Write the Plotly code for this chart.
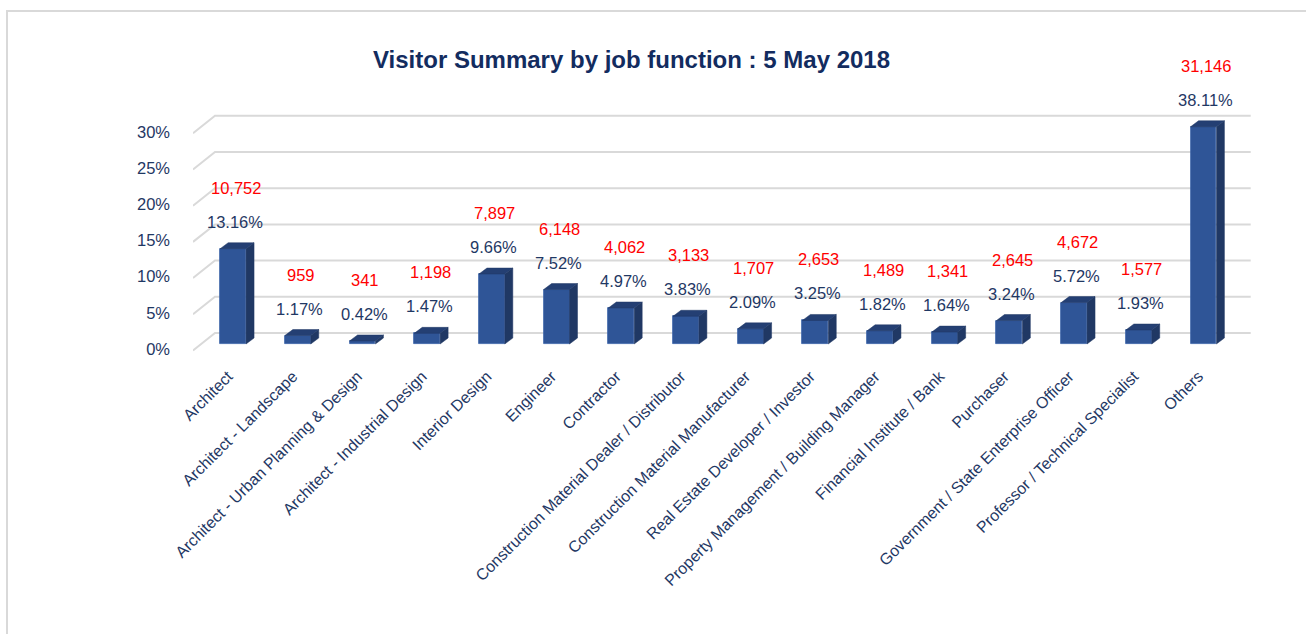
import plotly.graph_objects as go

categories = [
    "Architect", "Architect - Landscape", "Architect - Urban Planning & Design",
    "Architect - Industrial Design", "Interior Design", "Engineer", "Contractor",
    "Construction Material Dealer / Distributor", "Construction Material Manufacturer",
    "Real Estate Developer / Investor", "Property Management / Building Manager",
    "Financial Institute / Bank", "Purchaser", "Government / State Enterprise Officer",
    "Professor / Technical Specialist", "Others",
]
percent = [13.16, 1.17, 0.42, 1.47, 9.66, 7.52, 4.97, 3.83, 2.09, 3.25, 1.82, 1.64,
           3.24, 5.72, 1.93, 38.11]
visitors = [10752, 959, 341, 1198, 7897, 6148, 4062, 3133, 1707, 2653, 1489, 1341,
            2645, 4672, 1577, 31146]
y_ticks = [0, 5, 10, 15, 20, 25, 30]
y_tick_text = ["0%", "5%", "10%", "15%", "20%", "25%", "30%"]

W, H = 1306, 634
ML, MR, MT, MB = 193, 54, 80, 274
X_RANGE = [-0.62, 15.75]
Y_RANGE = [-2.21, 36.46]
AXIS_MAX = 30

px_x = (W - ML - MR) / (X_RANGE[1] - X_RANGE[0])
px_y = (H - MT - MB) / (Y_RANGE[1] - Y_RANGE[0])

NAVY = "#1F3864"
TITLE = "#132C5F"
FRONT = "#2F5597"
SIDE = "#203864"
GRID = "#D9D9D9"
FONT = "Liberation Sans, Arial, sans-serif"

bar_w = 0.40
dx = 8 / px_x
dy = 6 / px_y
back_off = 11 / px_y
front_off = -6.5 / px_y
floor_dx = 22 / px_x
grid_end = 15.73

shown = [min(p, AXIS_MAX) for p in percent]
xs = list(range(len(categories)))

fig = go.Figure()

# back-wall gridlines with the little floor diagonal on the left, kept under the bars
for t in y_ticks:
    fig.add_shape(
        type="path", xref="x", yref="y", layer="below",
        path=(f"M {X_RANGE[0]},{t + front_off} L {X_RANGE[0] + floor_dx},{t + back_off} "
              f"L {grid_end},{t + back_off}"),
        line=dict(color=GRID, width=2),
    )

# front faces
fig.add_trace(go.Bar(
    x=xs, y=shown, width=bar_w, marker=dict(color=FRONT, line=dict(color="#3B63A8", width=0.8)),
    showlegend=False, hoverinfo="skip",
))

# side and top faces
side_x, side_y, top_x, top_y = [], [], [], []
for x, v in zip(xs, shown):
    r = x + bar_w / 2
    l = x - bar_w / 2
    side_x += [r, r + dx, r + dx, r, r, None]
    side_y += [0, dy, v + dy, v, 0, None]
    top_x += [l, r, r + dx, l + dx, l, None]
    top_y += [v, v, v + dy, v + dy, v, None]
fig.add_trace(go.Scatter(x=side_x, y=side_y, fill="toself", fillcolor=SIDE, mode="lines",
                         line=dict(color=SIDE, width=0.5), hoverinfo="skip", showlegend=False))
fig.add_trace(go.Scatter(x=top_x, y=top_y, fill="toself", fillcolor="#243F73", mode="lines",
                         line=dict(color=SIDE, width=0.5), hoverinfo="skip", showlegend=False))

for x, v, p, n in zip(xs, shown, percent, visitors):
    fig.add_annotation(x=x, y=v, text=f"{p:.2f}%", showarrow=False, yshift=27, xshift=2,
                       font=dict(size=16.5, color=NAVY, family=FONT))
    fig.add_annotation(x=x, y=v, text=f"{n:,}", showarrow=False, yshift=61, xshift=3,
                       font=dict(size=16.5, color="#FF0000", family=FONT))

fig.add_annotation(xref="paper", yref="paper", x=(631 - ML) / (W - ML - MR),
                   y=(H - MB - 59) / (H - MT - MB), xanchor="center", yanchor="middle",
                   text="<b>Visitor Summary by job function : 5 May 2018</b>",
                   showarrow=False, font=dict(size=24, color=TITLE, family=FONT))


def to_paper(px, py):
    return (px - ML) / (W - ML - MR), (H - MB - py) / (H - MT - MB)


# light frame on the left and top edges
x0, y0 = to_paper(7, H + 5)
x1, y1 = to_paper(7, 11)
x2, _ = to_paper(W + 5, 11)
fig.add_shape(type="path", xref="paper", yref="paper",
              path=f"M {x0},{y0} L {x1},{y1} L {x2},{y1}",
              line=dict(color=GRID, width=2))

fig.update_layout(
    width=W, height=H,
    margin=dict(l=ML, r=MR, t=MT, b=MB),
    paper_bgcolor="white", plot_bgcolor="white",
    font=dict(family=FONT, color=NAVY),
    bargap=0,
    xaxis=dict(range=X_RANGE, tickvals=xs, ticktext=categories, tickangle=-45,
               showgrid=False, zeroline=False, showline=False, ticks="",
               tickfont=dict(size=16, color=NAVY, family=FONT),
               ticklabelstandoff=3, ticklabelshift=-5),
    yaxis=dict(range=Y_RANGE, tickvals=y_ticks, ticktext=y_tick_text, showgrid=False,
               zeroline=False, showline=False, ticks="", ticklabelshift=5,
               ticklabelstandoff=22, tickfont=dict(size=16.5, color=NAVY, family=FONT)),
)

fig.write_html("out.html", config={"displayModeBar": False},
               post_script="document.body.style.margin='0';")
